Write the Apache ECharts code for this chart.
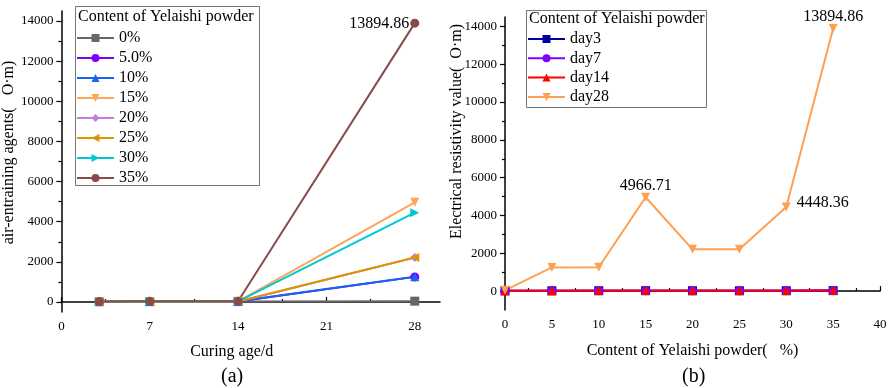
<!DOCTYPE html>
<html>
<head>
<meta charset="utf-8">
<script src="https://cdn.jsdelivr.net/npm/echarts@6/dist/echarts.min.js"></script>
<style>
  html, body { margin: 0; padding: 0; background: #fff; }
  #chart { width: 892px; height: 388px; }
</style>
</head>
<body>
<div id="chart"></div>
<script>
// curing ages (d) and Yelaishi powder contents (%)
const ages = [3, 7, 14, 28];
const contents = [0, 5, 10, 15, 20, 25, 30, 35];
const contentNames = ['0%', '5.0%', '10%', '15%', '20%', '25%', '30%', '35%'];

// resistivity per content, one list per curing age
const day3 = [12, 15, 18, 20, 16, 15, 18, 25];
const day7 = [15, 18, 22, 24, 20, 19, 22, 30];
const day14 = [20, 24, 30, 32, 26, 25, 30, 40];
const day28 = [40, 1250, 1260, 4966.71, 2210, 2220, 4448.36, 13894.86];

const dayNames = ['day3', 'day7', 'day14', 'day28'];
const yTicks = [0, 2000, 4000, 6000, 8000, 10000, 12000, 14000];
const yMinor = [1000, 3000, 5000, 7000, 9000, 11000, 13000];
const ageTicks = [0, 7, 14, 21, 28];
const ageMinor = [3.5, 10.5, 17.5, 24.5];

const font = 'Liberation Serif';
const leftColors = ['#666666', '#8000ff', '#1565f0', '#ffa55a', '#c77ddd', '#db9500', '#00c8d2', '#8b4a4a'];
const leftSymbols = ['rect', 'circle', 'triangle', 'triangle', 'diamond', 'triangle', 'triangle', 'circle'];
const leftRotate = [0, 0, 0, 180, 0, 90, -90, 0];
const rightColors = ['#0000a0', '#8000ff', '#ff0000', '#ffa050'];
const rightSymbols = ['rect', 'circle', 'triangle', 'triangle'];
const rightRotate = [0, 0, 0, 180];

const byDay = [day3, day7, day14, day28];

let myChart;
function draw() {
    const series = [];
    const valLabel = { fontFamily: font, fontSize: 16, color: '#000' };

    // (a) resistivity vs curing age, one line per content
    contents.forEach(function (c, i) {
        series.push({
            name: contentNames[i],
            type: 'line',
            xAxisIndex: 0,
            yAxisIndex: 0,
            data: ages.map(function (a, k) {
                const item = { value: [a, byDay[k][i]] };
                if (i === 7 && k === 3) {
                    item.label = Object.assign({ show: true, position: 'left', distance: 1, offset: [0, 1],
                        formatter: function (p) { return p.value[1].toFixed(2); } }, valLabel);
                }
                return item;
            }),
            symbol: leftSymbols[i],
            symbolRotate: leftRotate[i],
            symbolSize: 9,
            color: leftColors[i],
            lineStyle: { width: 2 }
        });
    });

    // (b) resistivity vs content, one line per curing age
    const rightLabelPos = { 3: 'top', 6: 'right', 7: 'top' };
    dayNames.forEach(function (d, k) {
        series.push({
            name: d,
            type: 'line',
            xAxisIndex: 2,
            yAxisIndex: 2,
            data: contents.map(function (c, i) {
                const item = { value: [c, byDay[k][i]] };
                if (k === 3 && rightLabelPos[i]) {
                    item.label = Object.assign({
                        show: true,
                        position: rightLabelPos[i],
                        distance: rightLabelPos[i] === 'top' ? -1 : 6,
                        offset: rightLabelPos[i] === 'top' ? [0, 0] : [0, -4],
                        formatter: function (p) { return p.value[1].toFixed(2); }
                    }, valLabel);
                }
                return item;
            }),
            symbol: rightSymbols[k],
            symbolRotate: rightRotate[k],
            symbolSize: 9,
            color: rightColors[k],
            lineStyle: { width: 2 }
        });
    });

    const axisLine = { lineStyle: { color: '#000', width: 1.5 } };
    const tickStyle = { color: '#000', width: 1.2 };
    // rich text so the serif face is used for tick labels
    function tickLabel(extra) {
        return Object.assign({
            fontFamily: font, fontSize: 13, color: '#000', margin: 8,
            formatter: function (v) { return '{t|' + v + '}'; },
            rich: { t: { fontFamily: font, fontSize: 13, color: '#000' } }
        }, extra || {});
    }

    let option = {
        backgroundColor: '#fff',
        animation: false,
        textStyle: { fontFamily: font },
        grid: [
            { left: 60, right: 452, top: 11, bottom: 76 },
            { left: 505, right: 12, top: 17, bottom: 78 }
        ],
        xAxis: [
            {
                type: 'value', gridIndex: 0, min: 0, max: 30,
                axisLine: axisLine, splitLine: { show: false },
                axisTick: { inside: true, length: 5, lineStyle: tickStyle, customValues: ageTicks },
                axisLabel: tickLabel({ customValues: ageTicks }),
                name: 'Curing age/d', nameLocation: 'middle', nameGap: 32,
                nameTextStyle: { fontFamily: font, fontSize: 16, color: '#000', padding: [0, 38, 0, 0] }
            },
            {
                type: 'value', gridIndex: 0, min: 0, max: 30, position: 'bottom',
                axisLine: { show: false }, splitLine: { show: false },
                axisTick: { inside: true, length: 3, lineStyle: tickStyle, customValues: ageMinor },
                axisLabel: { show: false }
            },
            {
                type: 'value', gridIndex: 1, min: 0, max: 40, interval: 5,
                axisLine: axisLine, splitLine: { show: false },
                axisTick: { inside: true, length: 5, lineStyle: tickStyle },
                minorTick: { show: true, splitNumber: 2, length: 3, lineStyle: tickStyle },
                axisLabel: tickLabel(),
                name: 'Content of Yelaishi powder(   %)', nameLocation: 'middle', nameGap: 33,
                nameTextStyle: { fontFamily: font, fontSize: 16, color: '#000' }
            }
        ],
        yAxis: [
            {
                type: 'value', gridIndex: 0, min: -500, max: 14500,
                axisLine: Object.assign({ show: true }, axisLine), splitLine: { show: false },
                axisTick: { show: true, length: 5, lineStyle: tickStyle, customValues: yTicks },
                axisLabel: tickLabel({ customValues: yTicks }),
                name: 'air-entraining agents(   O·m)', nameLocation: 'middle', nameGap: 35,
                nameTextStyle: { fontFamily: font, fontSize: 16, color: '#000', padding: [0, 0, 0, 18] }
            },
            {
                type: 'value', gridIndex: 0, min: -500, max: 14500, position: 'left',
                axisLine: { show: false }, splitLine: { show: false },
                axisTick: { show: true, length: 3, lineStyle: tickStyle, customValues: yMinor },
                axisLabel: { show: false }
            },
            {
                type: 'value', gridIndex: 1, min: -1000, max: 14500,
                axisLine: Object.assign({ show: true }, axisLine), splitLine: { show: false },
                axisTick: { show: true, length: 5, lineStyle: tickStyle, customValues: yTicks },
                axisLabel: tickLabel({ customValues: yTicks }),
                name: 'Electrical resistivity value(  O·m)', nameLocation: 'middle', nameGap: 40,
                nameMoveOverlap: false,
                nameTextStyle: { fontFamily: font, fontSize: 16, color: '#000', padding: [0, 0, 0, 64] }
            },
            {
                type: 'value', gridIndex: 1, min: -1000, max: 14500, position: 'left',
                axisLine: { show: false }, splitLine: { show: false },
                axisTick: { show: true, length: 3, lineStyle: tickStyle, customValues: yMinor },
                axisLabel: { show: false }
            }
        ],
        legend: [
            {
                data: contentNames, orient: 'vertical', left: 76, top: 30,
                itemWidth: 37, itemHeight: 10, itemGap: 4, padding: 0,
                textStyle: { fontFamily: font, fontSize: 16, color: '#000', lineHeight: 16 }
            },
            {
                data: dayNames, orient: 'vertical', left: 527, top: 31,
                itemWidth: 37, itemHeight: 10, itemGap: 3.3, padding: 0,
                textStyle: { fontFamily: font, fontSize: 16, color: '#000', lineHeight: 16 }
            }
        ],
        graphic: [
            { type: 'rect', shape: { x: 75.5, y: 6.5, width: 184, height: 179 }, style: { fill: null, stroke: '#777', lineWidth: 1 }, z: 10 },
            { type: 'text', left: 78, top: 9, style: { text: 'Content of Yelaishi powder', fontFamily: font, fontSize: 16, fill: '#000' }, z: 10 },
            { type: 'rect', shape: { x: 526.5, y: 10.5, width: 180, height: 97 }, style: { fill: null, stroke: '#777', lineWidth: 1 }, z: 10 },
            { type: 'text', left: 529, top: 11, style: { text: 'Content of Yelaishi powder', fontFamily: font, fontSize: 16, fill: '#000' }, z: 10 },
            { type: 'text', left: 221, top: 367, style: { text: '(a)', fontFamily: font, fontSize: 20, fill: '#000' } },
            { type: 'text', left: 682, top: 367, style: { text: '(b)', fontFamily: font, fontSize: 20, fill: '#000' } }
        ],
        series: series
    };

    myChart = echarts.init(document.getElementById('chart'));
    myChart.setOption(option);

    window.addEventListener('resize', function () {
        myChart.resize();
    }, false);
}

draw();
</script>
</body>
</html>
